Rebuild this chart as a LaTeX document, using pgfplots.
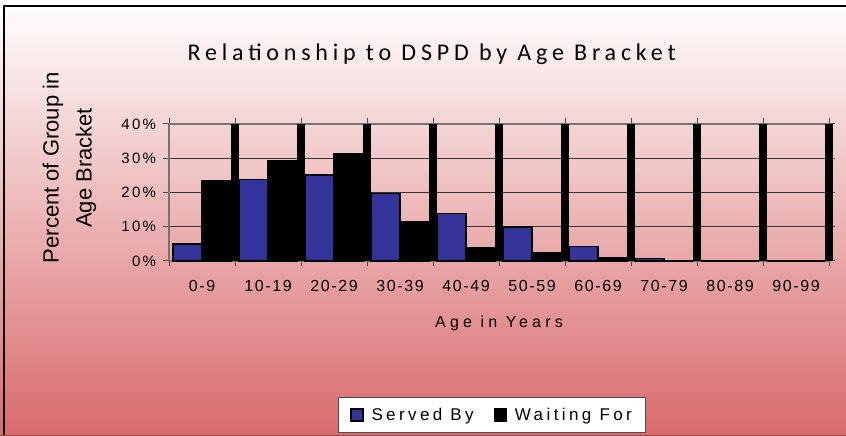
\documentclass[border=0pt]{standalone}
\usepackage{pgfplots}
\pgfplotsset{compat=1.18}
\usepackage{fontspec}
\setmainfont{Liberation Sans}
\newfontfamily\titlefont{Carlito}[LetterSpace=20]
\newfontfamily\spacedfont{Liberation Sans}[LetterSpace=15]
\newfontfamily\tickfont{Liberation Sans}[LetterSpace=10]
\newfontfamily\widefont{Liberation Sans}[LetterSpace=26]
\newfontfamily\legendfont{Liberation Sans}[LetterSpace=20]
\definecolor{barblue}{RGB}{51,51,153}
\definecolor{bgred}{RGB}{217,106,108}
\definecolor{bottomline}{RGB}{150,70,72}
\pgfplotstableread{
x served waiting
1 5.0 23.3
2 23.8 29.4
3 25.1 31.4
4 19.7 11.4
5 13.9 3.8
6 9.9 2.3
7 4.3 0.9
8 0.8 0
9 0 0
10 0 0
}\agedata
\begin{document}
\begin{tikzpicture}
\useasboundingbox (0,0) rectangle (846pt,436pt);
\shade[top color=white, bottom color=bgred] (0,0) rectangle (846pt,436pt);
\draw[black, line width=2.5pt] (4pt,0) -- (4pt,430pt) -- (846pt,430pt);
\draw[line width=1.2pt, bottomline] (0,0.6pt) -- (846pt,0.6pt);
\begin{axis}[
  at={(169pt,175pt)}, anchor=south west,
  scale only axis, width=660pt, height=137pt,
  xmin=0.5, xmax=10.5, ymin=0, ymax=40,
  enlargelimits=false, clip=false,
  axis line style={black!55, line width=1.5pt},
  ytick={0,10,20,30,40},
  yticklabels={0\%,10\%,20\%,30\%,40\%},
  ymajorgrids, major grid style={black!80, line width=0.8pt},
  xtick={0.5,1.5,...,10.5}, xticklabels={},
  extra x ticks={1,2,3,4,5,6,7,8,9,10},
  extra x tick labels={0-9,10-19,20-29,30-39,40-49,50-59,60-69,70-79,80-89,90-99},
  extra x tick style={major tick length=0pt},
  tick align=outside, major tick length=5.5pt,
  tick style={black!70, line width=1pt},
  yticklabel style={font=\spacedfont\fontsize{15}{18}\selectfont, xshift=-4pt},
  xticklabel style={font=\tickfont\fontsize{16}{19}\selectfont, yshift=-16pt},
  title={Relationship to DSPD by Age Bracket},
  title style={at={(axis description cs:0.398,1.42)}, anchor=base, font=\titlefont\fontsize{24}{28}\selectfont},
  xlabel={Age in Years},
  xlabel style={at={(axis description cs:0.5,-0.489)}, anchor=base, font=\widefont\fontsize{16}{19}\selectfont},
  ylabel={Percent of Group in\\Age Bracket},
  ylabel style={at={(axis description cs:-0.151,0.68)}, anchor=center, align=center, font=\fontsize{22}{33}\selectfont},
  legend columns=2,
  legend style={at={(axis description cs:0.4895,-1.124)}, anchor=center, draw=black!70, line width=0.8pt, fill=white,
    font=\legendfont\fontsize{17}{20}\selectfont, inner xsep=12pt, inner ysep=9pt,
    /tikz/every odd column/.append style={column sep=6pt},
    /tikz/every even column/.append style={column sep=18pt}},
]
\addplot[ycomb, black, line width=8pt, mark=none, forget plot] coordinates {(1.5,40) (2.5,40) (3.5,40) (4.5,40) (5.5,40) (6.5,40) (7.5,40) (8.5,40) (9.5,40) (10.5,40)};
\addplot[ybar, bar width=29pt, bar shift=-14.5pt, fill=barblue, draw=black, line width=1.5pt,
  legend image code/.code={\draw[fill=barblue, draw=black, line width=1.2pt] (0pt,-6pt) rectangle (12pt,6pt);}]
  table[x=x, y=served] {\agedata};
\addplot[ybar, bar width=29pt, bar shift=14.5pt, fill=black, draw=black, line width=1.5pt,
  legend image code/.code={\draw[fill=black, draw=black, line width=1.2pt] (0pt,-6pt) rectangle (12pt,6pt);}]
  table[x=x, y=waiting] {\agedata};
\legend{Served By,Waiting For}
\end{axis}
\end{tikzpicture}
\end{document}
